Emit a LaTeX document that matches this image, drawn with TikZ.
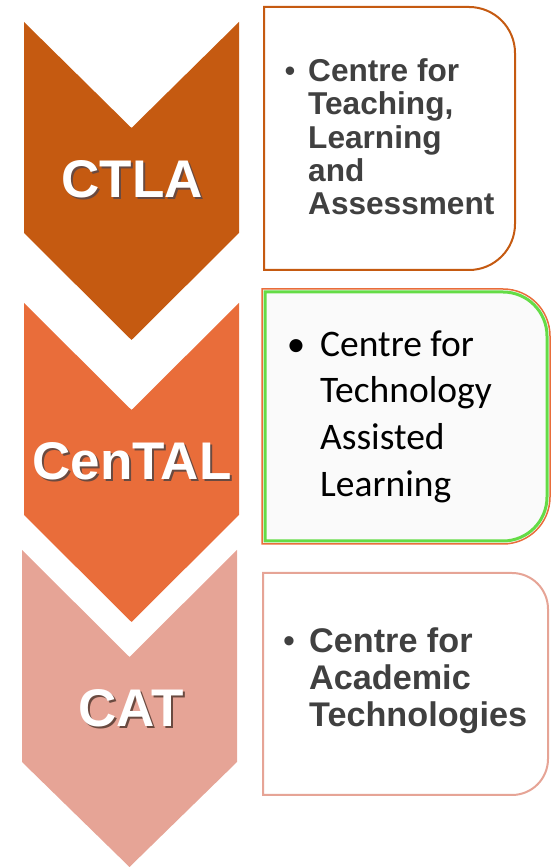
\documentclass[tikz,border=0pt]{standalone}
\usepackage{fontspec}
\setmainfont{Liberation Sans}
\newfontfamily\calibfont{Carlito}
\definecolor{cA}{HTML}{C55A11}
\definecolor{cB}{HTML}{E96D3A}
\definecolor{cC}{HTML}{E6A496}
\definecolor{tgray}{HTML}{404040}
\definecolor{gline}{HTML}{64DC46}
\definecolor{boxfill}{HTML}{FAFAFA}
\definecolor{shadowc}{HTML}{6A4A40}
\newcommand{\shtext}[1]{\rlap{\kern2pt\raisebox{-2pt}{\color{shadowc}#1}}#1}
\begin{document}
\begin{tikzpicture}[x=1pt,y=1pt,
  chevtxt/.style={text=white,font=\bfseries\fontsize{53}{60}\selectfont,inner sep=0,anchor=base},
  arialtxt/.style={text=tgray,font=\bfseries\fontsize{31.6}{33}\selectfont,inner sep=0,anchor=base west},
  arialtxtb/.style={text=tgray,font=\bfseries\fontsize{34.2}{37}\selectfont,inner sep=0,anchor=base west},
  calibtxt/.style={text=black,font=\calibfont\fontsize{37.5}{47}\selectfont,inner sep=0,anchor=base west},
  bullA/.style={text=tgray,font=\fontsize{31}{33}\selectfont,inner sep=0,anchor=base},
  bullB/.style={text=black,font=\calibfont\fontsize{37}{47}\selectfont,inner sep=0,anchor=base},
  bullC/.style={text=tgray,font=\fontsize{34}{37}\selectfont,inner sep=0,anchor=base}]
\useasboundingbox (0,0) rectangle (558,867);
% chevrons
\fill[cA] (24,845) -- (131.5,739) -- (239,845) -- (239,634) -- (131.5,527) -- (24,634) -- cycle;
\fill[cB] (24,564) -- (131.5,457) -- (239,564) -- (239,352) -- (131.5,245) -- (24,352) -- cycle;
\fill[cC] (22,317) -- (129.5,210) -- (237,317) -- (237,105) -- (129.5,0) -- (22,105) -- cycle;
% chevron labels
\node[chevtxt] (ctla) at (132,669) {\shtext{CTLA}};
\node[chevtxt] (cental) at (132,387) {\shtext{CenTAL}};
\node[chevtxt] (cat) at (131,140) {\shtext{CAT}};
% box 1
\draw[cA,line width=2,fill=white] (264,597) -- (264,860) -- (469,860)
  arc[start angle=90,end angle=0,radius=46] -- (515,643)
  arc[start angle=0,end angle=-90,radius=46] -- cycle;
% box 2
\draw[cB,line width=1.5,fill=boxfill] (262,323) -- (262,578) -- (503,578)
  arc[start angle=90,end angle=0,radius=47] -- (550,370)
  arc[start angle=0,end angle=-90,radius=47] -- cycle;
\draw[gline,line width=3] (265,326) -- (265,575) -- (503,575)
  arc[start angle=90,end angle=0,radius=44] -- (547,370)
  arc[start angle=0,end angle=-90,radius=44] -- cycle;
% box 3
\draw[cC,line width=2,fill=white] (263,72) -- (263,294) -- (512,294)
  arc[start angle=90,end angle=0,radius=36] -- (548,108)
  arc[start angle=0,end angle=-90,radius=36] -- cycle;
% box 1 text
\node[bullA] (b1b) at (290,785) {•};
\node[arialtxt] (b1l1) at (308,785) {Centre for};
\node[arialtxt] (b1l2) at (308,752) {Teaching,};
\node[arialtxt] (b1l3) at (308,718) {Learning};
\node[arialtxt] (b1l4) at (308,685) {and};
\node[arialtxt] (b1l5) at (308,652) {Assessment};
% box 2 text
\node[bullB] (b2b) at (296,510) {•};
\node[calibtxt] (b2l1) at (320,510) {Centre for};
\node[calibtxt] (b2l2) at (320,464) {Technology};
\node[calibtxt] (b2l3) at (320,417) {Assisted};
\node[calibtxt] (b2l4) at (320,370) {Learning};
% box 3 text
\node[bullC] (b3b) at (289,214) {•};
\node[arialtxtb] (b3l1) at (309,214) {Centre for};
\node[arialtxtb] (b3l2) at (309,177) {Academic};
\node[arialtxtb] (b3l3) at (309,140) {Technologies};
\end{tikzpicture}
\end{document}
